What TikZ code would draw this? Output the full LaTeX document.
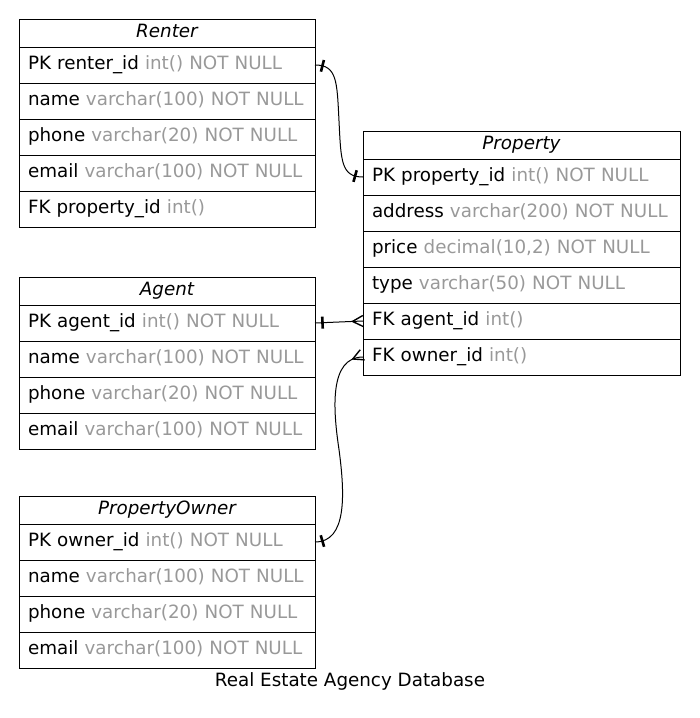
\documentclass[tikz,border=0pt]{standalone}
\usepackage{fontspec}
\setmainfont{DejaVu Sans}
\usetikzlibrary{positioning,calc,decorations.markings}
\definecolor{typegray}{HTML}{999999}

\begin{document}
\begin{tikzpicture}[x=1pt, y=-1pt,
        font=\fontsize{18.3}{22}\selectfont,
        row/.style={draw, line width=1pt, outer sep=0pt, inner xsep=9pt, inner ysep=0pt,
            minimum height=36pt, text height=13pt, text depth=4pt, align=left},
        head/.style={row, minimum height=28pt, align=center, font=\fontsize{18.3}{22}\selectfont\itshape},
        conn/.style={draw, line width=1pt},
        onestart/.style={postaction={decorate, decoration={markings,
            mark=at position 7.5pt with {\draw[line width=2.6pt] (0pt,-6pt) -- (0pt,6pt);}}}},
        oneend/.style={postaction={decorate, decoration={markings,
            mark=at position -8pt with {\draw[line width=2.6pt] (0pt,-6pt) -- (0pt,6pt);}}}},
        manyend/.style={postaction={decorate, decoration={markings,
            mark=at position -10.5pt with {\draw[line width=1.4pt] (10.5pt,-5.5pt) -- (0pt,0pt) -- (10.5pt,5.5pt);}}}}
    ]
        \useasboundingbox (0,0) rectangle (700,718);

        % Renter
        \node[head, text width=278pt, anchor=north west] (renter) at (19,19) {Renter};
        \node[row, text width=278pt, below=0pt of renter] (renterPK) {PK renter\_id \textcolor{typegray}{int() NOT NULL}};
        \node[row, text width=278pt, below=0pt of renterPK] (renterName) {name \textcolor{typegray}{varchar(100) NOT NULL}};
        \node[row, text width=278pt, below=0pt of renterName] (renterPhone) {phone \textcolor{typegray}{varchar(20) NOT NULL}};
        \node[row, text width=278pt, below=0pt of renterPhone] (renterEmail) {email \textcolor{typegray}{varchar(100) NOT NULL}};
        \node[row, text width=278pt, below=0pt of renterEmail] (renterFK) {FK property\_id \textcolor{typegray}{int()}};

        % Property
        \node[head, text width=299pt, anchor=north west] (prop) at (363,131) {Property};
        \node[row, text width=299pt, below=0pt of prop] (propPK) {PK property\_id \textcolor{typegray}{int() NOT NULL}};
        \node[row, text width=299pt, below=0pt of propPK] (propAddress) {address \textcolor{typegray}{varchar(200) NOT NULL}};
        \node[row, text width=299pt, below=0pt of propAddress] (propPrice) {price \textcolor{typegray}{decimal(10,2) NOT NULL}};
        \node[row, text width=299pt, below=0pt of propPrice] (propType) {type \textcolor{typegray}{varchar(50) NOT NULL}};
        \node[row, text width=299pt, below=0pt of propType] (propAgent) {FK agent\_id \textcolor{typegray}{int()}};
        \node[row, text width=299pt, below=0pt of propAgent] (propOwner) {FK owner\_id \textcolor{typegray}{int()}};

        % Agent
        \node[head, text width=278pt, anchor=north west] (agent) at (19,277) {Agent};
        \node[row, text width=278pt, below=0pt of agent] (agentPK) {PK agent\_id \textcolor{typegray}{int() NOT NULL}};
        \node[row, text width=278pt, below=0pt of agentPK] (agentName) {name \textcolor{typegray}{varchar(100) NOT NULL}};
        \node[row, text width=278pt, below=0pt of agentName] (agentPhone) {phone \textcolor{typegray}{varchar(20) NOT NULL}};
        \node[row, text width=278pt, below=0pt of agentPhone] (agentEmail) {email \textcolor{typegray}{varchar(100) NOT NULL}};

        % PropertyOwner
        \node[head, text width=278pt, anchor=north west] (owner) at (19,496) {PropertyOwner};
        \node[row, text width=278pt, below=0pt of owner] (ownerPK) {PK owner\_id \textcolor{typegray}{int() NOT NULL}};
        \node[row, text width=278pt, below=0pt of ownerPK] (ownerName) {name \textcolor{typegray}{varchar(100) NOT NULL}};
        \node[row, text width=278pt, below=0pt of ownerName] (ownerPhone) {phone \textcolor{typegray}{varchar(20) NOT NULL}};
        \node[row, text width=278pt, below=0pt of ownerPhone] (ownerEmail) {email \textcolor{typegray}{varchar(100) NOT NULL}};

        % links
        \draw[conn, onestart, oneend] (renterPK.east)
            .. controls +(22,0) and +(-2,-40) .. ($(renterPK.east)!0.5!(propPK.west)$)
            .. controls +(2,40) and +(-22,0) .. (propPK.west);
        \draw[conn, onestart, manyend] (agentPK.east) -- (propAgent.west);
        \draw[conn, onestart, manyend] (ownerPK.east)
            .. controls +(32,0) and +(6,45) .. ($(ownerPK.east)!0.5!(propOwner.west)$)
            .. controls +(-6,-40) and +(-34,0) .. (propOwner.west);

        \node[text height=13pt, text depth=4pt] (caption) at (350,682) {Real Estate Agency Database};

    \end{tikzpicture}
\end{document}
